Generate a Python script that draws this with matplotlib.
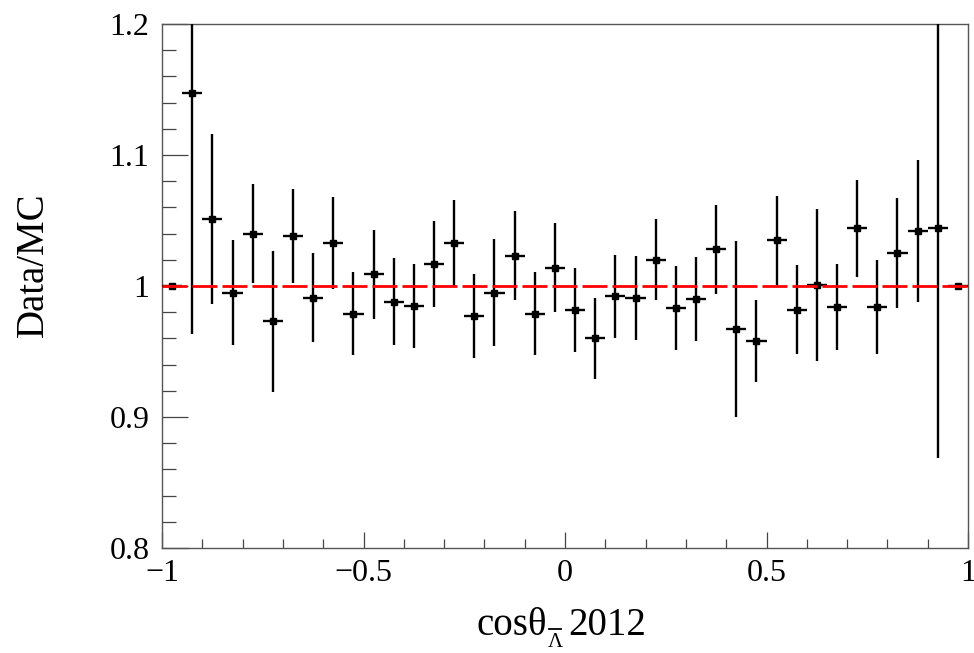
import numpy as np
import matplotlib
matplotlib.use("Agg")
import matplotlib.pyplot as plt
from matplotlib.ticker import MultipleLocator, FuncFormatter
from matplotlib.lines import Line2D

plt.rcParams['font.family'] = ['Liberation Serif', 'DejaVu Serif']

# Data
bin_edges = np.linspace(-1.0, 1.0, 41)
ratio = [1.000, 1.147, 1.051, 0.995, 1.040, 0.973, 1.038, 0.991, 1.033, 0.979,
         1.009, 0.988, 0.985, 1.017, 1.033, 0.977, 0.995, 1.023, 0.979, 1.014,
         0.982, 0.960, 0.992, 0.991, 1.020, 0.983, 0.990, 1.028, 0.967, 0.958,
         1.035, 0.982, 1.001, 0.984, 1.044, 0.984, 1.025, 1.042, 1.044, 1.000]
ratio_err = [0.000, 0.184, 0.065, 0.040, 0.038, 0.054, 0.036, 0.034, 0.035, 0.032,
             0.034, 0.033, 0.032, 0.033, 0.033, 0.032, 0.041, 0.034, 0.032, 0.034,
             0.032, 0.031, 0.032, 0.032, 0.031, 0.032, 0.032, 0.034, 0.067, 0.031,
             0.034, 0.034, 0.058, 0.033, 0.037, 0.036, 0.042, 0.054, 0.175, 0.000]
x_ticks = [-1.0, -0.5, 0.0, 0.5, 1.0]
y_ticks = [0.8, 0.9, 1.0, 1.1, 1.2]
reference_level = 1.0

centers = 0.5 * (bin_edges[:-1] + bin_edges[1:])
half_w = 0.5 * np.diff(bin_edges)

W, H = 974, 653
fig = plt.figure(figsize=(W / 100, H / 100), dpi=100)
ax = fig.add_axes([162 / W, 1 - 548 / H, (968 - 162) / W, (548 - 24) / H])

ax.errorbar(centers, ratio, yerr=ratio_err, xerr=half_w, fmt='s', color='black',
            ms=4.5, elinewidth=1.7, capsize=0, zorder=3)
ax.axhline(reference_level, color='#ff0000', lw=2.0, dashes=(9, 1.8), zorder=4)

ax.set_xlim(-1, 1)
ax.set_ylim(0.8, 1.2)
ax.set_xticks(x_ticks)
ax.set_yticks(y_ticks)
ax.xaxis.set_minor_locator(MultipleLocator(0.1))
ax.yaxis.set_minor_locator(MultipleLocator(0.02))

fmt = FuncFormatter(lambda v, p: ('%g' % v).replace('-', '\u2212'))
ax.xaxis.set_major_formatter(fmt)
ax.yaxis.set_major_formatter(fmt)

ax.tick_params(axis='both', which='both', direction='in', top=False, right=False,
               color='#444444', width=0.9, labelsize=23)
ax.tick_params(axis='y', which='major', length=18.7, pad=9)
ax.tick_params(axis='y', which='minor', length=10)
ax.tick_params(axis='x', which='major', length=11.5, pad=8)
ax.tick_params(axis='x', which='minor', length=6.5)
for s in ax.spines.values():
    s.set_color('#555555')
    s.set_linewidth(1.0)

# Axis titles
fig.text(33 / W, 1 - 265 / H, 'Data/MC', rotation=90, ha='center', va='center', fontsize=28)
fig.text(547 / W, 1 - 635 / H, 'cosθ', ha='right', va='baseline', fontsize=28)
fig.text(555 / W, 1 - 652 / H, 'Λ', ha='center', va='bottom', fontsize=15)
fig.add_artist(Line2D([549 / W, 561 / W], [1 - 629 / H, 1 - 629 / H],
                      transform=fig.transFigure, color='black', lw=1.3))
fig.text(568 / W, 1 - 635 / H, '2012', ha='left', va='baseline', fontsize=28)

fig.savefig('out.png', dpi=100)
